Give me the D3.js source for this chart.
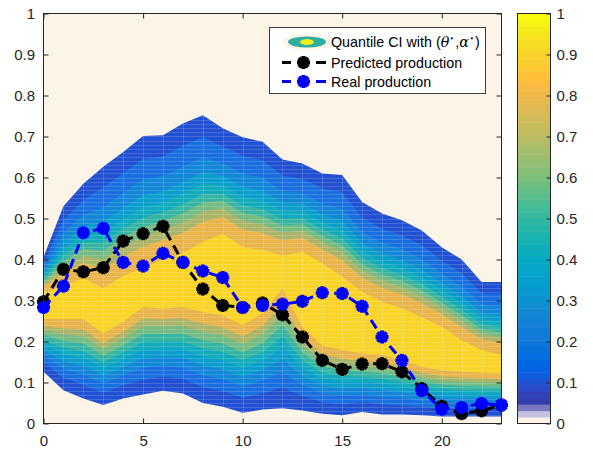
<!DOCTYPE html>
<html>
<head>
<meta charset="utf-8">
<script src="https://cdn.jsdelivr.net/npm/d3@7"></script>
<style>
  body { margin: 0; background: #fff; }
  text { font-family: "Liberation Sans", Arial, sans-serif; }
</style>
</head>
<body>
<svg id="chart" width="593" height="452"></svg>
<script>
// hours of the day on the x axis
var hours = [0,1,2,3,4,5,6,7,8,9,10,11,12,13,14,15,16,17,18,19,20,21,22,23];

var predicted = [0.297,0.376,0.370,0.380,0.445,0.463,0.481,0.393,0.328,0.288,0.283,0.294,
                 0.265,0.211,0.154,0.132,0.145,0.146,0.126,0.085,0.042,0.024,0.031,0.045];
var real = [0.283,0.335,0.465,0.476,0.393,0.384,0.415,0.393,0.372,0.356,0.283,0.288,
            0.291,0.298,0.319,0.317,0.286,0.211,0.154,0.080,0.035,0.039,0.049,0.045];

// quantile bands, outermost (0) to innermost (9): top edge and bottom edge per hour
var upperEdges = [
  [.406,.530,.585,.626,.662,.701,.703,.732,.752,.720,.698,.687,.644,.634,.610,.606,.540,.512,.496,.471,.430,.400,.345,.345],
  [.391,.497,.546,.576,.611,.646,.651,.678,.699,.676,.653,.642,.604,.597,.573,.564,.503,.475,.459,.435,.397,.367,.317,.315],
  [.378,.466,.509,.528,.562,.595,.603,.627,.650,.635,.610,.600,.567,.563,.537,.524,.468,.441,.425,.401,.366,.335,.290,.286],
  [.367,.442,.481,.493,.526,.557,.567,.589,.613,.604,.578,.568,.539,.537,.511,.494,.441,.415,.399,.376,.343,.311,.270,.265],
  [.360,.425,.461,.466,.499,.528,.539,.561,.585,.581,.554,.544,.518,.518,.491,.472,.422,.396,.380,.357,.325,.294,.255,.249],
  [.353,.409,.442,.442,.475,.502,.515,.535,.560,.561,.532,.523,.499,.501,.474,.452,.404,.379,.363,.340,.310,.278,.242,.235],
  [.347,.395,.426,.422,.454,.480,.494,.513,.539,.543,.514,.505,.483,.486,.458,.435,.389,.364,.348,.325,.296,.264,.230,.222],
  [.341,.382,.410,.401,.432,.457,.473,.491,.517,.525,.495,.486,.466,.471,.443,.418,.374,.349,.333,.311,.283,.250,.219,.210],
  [.334,.366,.392,.377,.408,.431,.448,.466,.492,.504,.474,.465,.447,.453,.425,.398,.356,.331,.315,.294,.267,.235,.206,.195],
  [.320,.335,.355,.330,.360,.380,.400,.415,.443,.463,.431,.423,.410,.419,.390,.358,.321,.297,.281,.260,.236,.203,.179,.167]
];
var lowerEdges = [
  [.126,.081,.061,.045,.061,.071,.080,.073,.050,.041,.026,.034,.037,.032,.024,.020,.028,.022,.022,.020,.017,.017,.017,.017],
  [.148,.111,.094,.075,.093,.107,.114,.109,.088,.079,.062,.074,.087,.067,.052,.047,.052,.047,.044,.040,.036,.036,.035,.035],
  [.165,.133,.119,.097,.117,.135,.140,.136,.117,.108,.090,.104,.125,.093,.074,.068,.071,.065,.062,.055,.051,.050,.049,.048],
  [.179,.152,.141,.116,.138,.158,.162,.160,.141,.132,.114,.130,.157,.116,.092,.085,.087,.081,.076,.068,.063,.062,.061,.060],
  [.192,.170,.160,.134,.156,.180,.182,.181,.163,.155,.135,.153,.186,.136,.109,.101,.101,.096,.089,.080,.075,.073,.072,.071],
  [.203,.185,.177,.149,.173,.199,.200,.200,.183,.175,.154,.174,.213,.154,.124,.115,.114,.109,.101,.091,.085,.082,.081,.080],
  [.215,.201,.195,.165,.190,.218,.218,.219,.203,.195,.174,.195,.239,.173,.139,.130,.127,.122,.113,.101,.095,.092,.091,.089],
  [.227,.217,.212,.181,.207,.237,.236,.238,.223,.215,.193,.217,.266,.191,.153,.144,.140,.135,.125,.112,.105,.102,.100,.099],
  [.238,.232,.230,.196,.224,.256,.254,.257,.243,.235,.212,.238,.292,.209,.168,.158,.152,.148,.137,.123,.115,.112,.110,.108],
  [.255,.255,.255,.219,.248,.284,.280,.284,.272,.264,.240,.268,.330,.236,.190,.179,.171,.167,.154,.138,.130,.126,.124,.122]
];
var bandColors = ['#2150d2','#1a6fe0','#1386d8','#0b9dcc','#12abbd','#38b5a2','#74bb84','#aab56a','#e9b44b','#f9d427'];

var xTicks = [0,5,10,15,20];
var yTicks = [0,0.1,0.2,0.3,0.4,0.5,0.6,0.7,0.8,0.9,1];

// colormap of the colorbar (bottom rows blend into the background)
var cmap = ['#fdf4e8','#c4c2e0','#7a78c0','#353dad','#3243ba','#2b4ac7','#2053d4','#0f5cdd','#0363e1','#0268e1',
  '#046de0','#0871de','#0d75dc','#1079da','#127dd8','#1481d6','#1485d4','#1389d3','#108ed2','#0c93d2',
  '#0998d1','#079ccf','#06a0cd','#06a4ca','#06a7c6','#07a9c2','#0aacbe','#0faeb9','#15b1b4','#1db3af',
  '#25b5a9','#2eb7a4','#38b99e','#42bb98','#4dbc92','#59bd8c','#65be86','#71bf80','#7cbf7b','#87bf77',
  '#92bf73','#9bbe6e','#a5be6b','#aebd67','#b7bd64','#c0bc60','#c8bb5c','#d1bb59','#d9ba56','#e1b952',
  '#e9b94e','#f1b949','#f8ba44','#fdbe3d','#ffc337','#fec832','#fccd2e','#f9d32a','#f7d826','#f5de21',
  '#f5e41d','#f5eb18','#f6f213','#f9fb0e'];

var svg = d3.select('#chart');
var plotL = 43.5, plotR = 501.5, plotT = 13.5, plotB = 423.5;
var cbL = 517.5, cbR = 550.5;

var x = d3.scaleLinear().domain([0, 23]).range([plotL, plotR]);
var y = d3.scaleLinear().domain([0, 1]).range([plotB, plotT]);

// axes background
svg.append('rect')
  .attr('x', plotL).attr('y', plotT)
  .attr('width', plotR - plotL).attr('height', plotB - plotT)
  .attr('fill', '#fdf4e8');

var defs = svg.append('defs');
var outerArea = d3.area()
  .x(function(d, i) { return x(hours[i]); })
  .y0(function(d, i) { return y(lowerEdges[0][i]); })
  .y1(function(d) { return y(d); });
defs.append('clipPath').attr('id', 'bandclip')
  .append('path').attr('d', outerArea(upperEdges[0]));

// bands
bandColors.forEach(function(col, k) {
  var area = d3.area()
    .x(function(d, i) { return x(hours[i]); })
    .y0(function(d, i) { return y(lowerEdges[k][i]); })
    .y1(function(d) { return y(d); });
  svg.append('path')
    .attr('d', area(upperEdges[k]))
    .attr('fill', col)
    .attr('stroke', 'none');
});

// faint mesh lines over the bands
var mesh = svg.append('g').attr('clip-path', 'url(#bandclip)');
mesh.selectAll('line.h').data(d3.range(0, 1, 0.01)).enter().append('line')
  .attr('x1', plotL).attr('x2', plotR)
  .attr('y1', function(d) { return Math.round(y(d)) + 0.5; })
  .attr('y2', function(d) { return Math.round(y(d)) + 0.5; })
  .attr('stroke', '#fff').attr('stroke-opacity', 0.16);
mesh.selectAll('line.v').data(hours).enter().append('line')
  .attr('x1', function(d) { return Math.round(x(d)) + 0.5; })
  .attr('x2', function(d) { return Math.round(x(d)) + 0.5; })
  .attr('y1', plotT).attr('y2', plotB)
  .attr('stroke', '#fff').attr('stroke-opacity', 0.16);

// series
function asterisk(g, px, py, col) {
  var r = 6.5;
  [0, 45, 90, 135].forEach(function(a) {
    var t = a * Math.PI / 180;
    g.append('line')
      .attr('x1', px - r * Math.cos(t)).attr('y1', py - r * Math.sin(t))
      .attr('x2', px + r * Math.cos(t)).attr('y2', py + r * Math.sin(t))
      .attr('stroke', col).attr('stroke-width', 4);
  });
  g.append('circle').attr('cx', px).attr('cy', py).attr('r', 5.6).attr('fill', col);
}

function drawSeries(values, col) {
  var line = d3.line()
    .x(function(d, i) { return x(hours[i]); })
    .y(function(d) { return y(d); });
  var g = svg.append('g');
  g.append('path')
    .attr('d', line(values))
    .attr('fill', 'none')
    .attr('stroke', col)
    .attr('stroke-width', 3)
    .attr('stroke-dasharray', '10,6');
  values.forEach(function(v, i) { asterisk(g, x(hours[i]), y(v), col); });
}
drawSeries(predicted, '#000');
drawSeries(real, '#0000ff');

// axes box and ticks
var axisCol = '#262626';
svg.append('rect')
  .attr('x', plotL).attr('y', plotT)
  .attr('width', plotR - plotL).attr('height', plotB - plotT)
  .attr('fill', 'none').attr('stroke', axisCol).attr('stroke-width', 1);

var fmt = function(d) { return d3.format('~g')(d); };
var xb = svg.append('g').attr('transform', 'translate(0,' + plotB + ')')
  .call(d3.axisBottom(x).tickValues(xTicks).tickSize(-5).tickPadding(12).tickFormat(fmt));
var xt = svg.append('g').attr('transform', 'translate(0,' + plotT + ')')
  .call(d3.axisTop(x).tickValues(xTicks).tickSize(-5).tickFormat(''));
var yl = svg.append('g').attr('transform', 'translate(' + plotL + ',0)')
  .call(d3.axisLeft(y).tickValues(yTicks).tickSize(-5).tickPadding(8.5).tickFormat(fmt));
var yr = svg.append('g').attr('transform', 'translate(' + plotR + ',0)')
  .call(d3.axisRight(y).tickValues(yTicks).tickSize(-5).tickFormat(''));
[xb, xt, yl, yr].forEach(function(a) {
  a.select('.domain').remove();
  a.selectAll('line').attr('stroke', axisCol);
  a.selectAll('text').attr('fill', axisCol).style('font-size', '15px')
    .style('font-family', '"Liberation Sans", Arial, sans-serif');
});

// colorbar
var cb = svg.append('g');
var cbY = d3.scaleLinear().domain([0, cmap.length]).range([plotB, plotT]);
cb.selectAll('rect').data(cmap).enter().append('rect')
  .attr('x', cbL).attr('width', cbR - cbL)
  .attr('y', function(d, i) { return cbY(i + 1); })
  .attr('height', function(d, i) { return cbY(i) - cbY(i + 1) + 0.5; })
  .attr('fill', function(d) { return d; });
cb.append('rect')
  .attr('x', cbL).attr('y', plotT)
  .attr('width', cbR - cbL).attr('height', plotB - plotT)
  .attr('fill', 'none').attr('stroke', axisCol).attr('stroke-width', 1);
var cba = svg.append('g').attr('transform', 'translate(' + cbR + ',0)')
  .call(d3.axisRight(y).tickValues(yTicks).tickSize(-4).tickPadding(6).tickFormat(fmt));
cba.select('.domain').remove();
cba.selectAll('line').attr('stroke', axisCol);
cba.selectAll('text').attr('fill', axisCol).style('font-size', '15px')
  .style('font-family', '"Liberation Sans", Arial, sans-serif');

// legend
var lg = svg.append('g');
lg.append('rect')
  .attr('x', 269.5).attr('y', 27.5).attr('width', 216).attr('height', 66)
  .attr('fill', '#fff').attr('stroke', '#3c3c3c').attr('stroke-width', 1);
lg.append('ellipse').attr('cx', 307).attr('cy', 42).attr('rx', 25).attr('ry', 8).attr('fill', '#fdf4e8');
lg.append('ellipse').attr('cx', 307).attr('cy', 42).attr('rx', 19).attr('ry', 5.5).attr('fill', '#2eaea2');
lg.append('ellipse').attr('cx', 307).attr('cy', 42).attr('rx', 7).attr('ry', 3).attr('fill', '#f1ee1a');

var lt = lg.append('text').attr('x', 331).attr('y', 47).style('font-size', '14.3px').attr('fill', '#000');
lt.append('tspan').text('Quantile CI with (');
lt.append('tspan').text('θ').style('font-style', 'italic').style('font-family', '"DejaVu Serif", serif');
lt.append('tspan').text('⋆').attr('dy', -6).style('font-size', '9px');
lt.append('tspan').text(',').attr('dy', 6);
lt.append('tspan').text('α').style('font-style', 'italic').style('font-family', '"DejaVu Serif", serif');
lt.append('tspan').text('⋆').attr('dy', -6).style('font-size', '9px');
lt.append('tspan').text(')').attr('dy', 6);

[{ label: 'Predicted production', col: '#000', yy: 62.5 },
 { label: 'Real production', col: '#0000ff', yy: 81.5 }].forEach(function(e) {
  lg.append('line').attr('x1', 282).attr('x2', 291).attr('y1', e.yy).attr('y2', e.yy)
    .attr('stroke', e.col).attr('stroke-width', 3);
  lg.append('line').attr('x1', 316).attr('x2', 326).attr('y1', e.yy).attr('y2', e.yy)
    .attr('stroke', e.col).attr('stroke-width', 3);
  asterisk(lg, 303.5, e.yy, e.col);
  lg.append('text').attr('x', 331).attr('y', e.yy + 5).style('font-size', '14.3px')
    .attr('fill', '#000').text(e.label);
});
</script>
</body>
</html>
